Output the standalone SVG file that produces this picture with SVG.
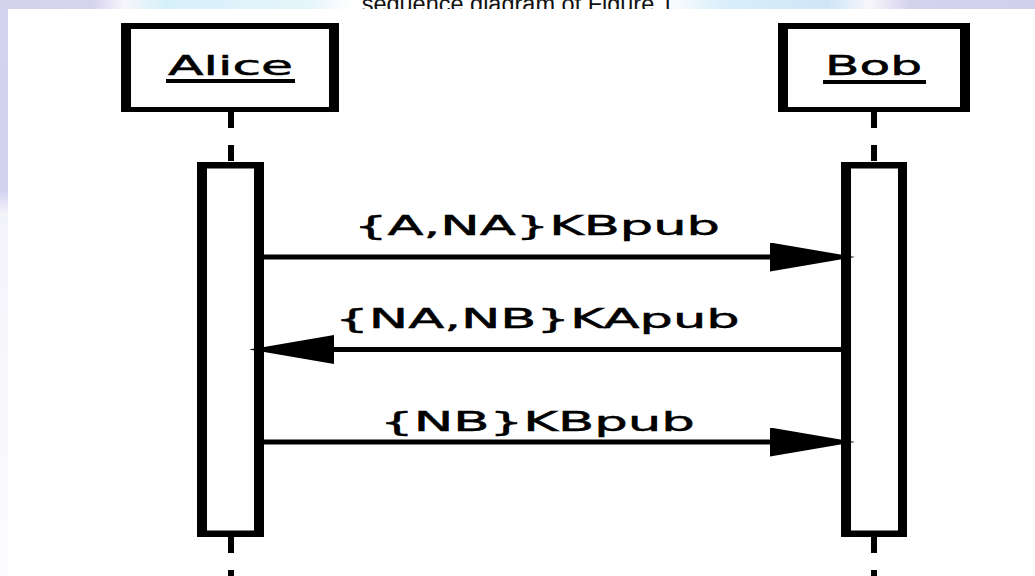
<svg xmlns="http://www.w3.org/2000/svg" width="1035" height="576" viewBox="0 0 1035 576">
  <defs>
    <linearGradient id="topband" x1="0" y1="0" x2="1035" y2="0" gradientUnits="userSpaceOnUse">
      <stop offset="0" stop-color="#d5d2ee"/>
      <stop offset="0.09" stop-color="#d7d4ef"/>
      <stop offset="0.12" stop-color="#f6f6fb"/>
      <stop offset="0.16" stop-color="#d6f0fa"/>
      <stop offset="0.3" stop-color="#e6f5fb"/>
      <stop offset="0.34" stop-color="#ffffff"/>
      <stop offset="0.64" stop-color="#ffffff"/>
      <stop offset="0.7" stop-color="#d9eefa"/>
      <stop offset="0.8" stop-color="#cfe6f7"/>
      <stop offset="0.84" stop-color="#f7f7fb"/>
      <stop offset="0.88" stop-color="#d5d2ee"/>
      <stop offset="1" stop-color="#d2cfed"/>
    </linearGradient>
    <linearGradient id="leftband" x1="0" y1="0" x2="0" y2="576" gradientUnits="userSpaceOnUse">
      <stop offset="0" stop-color="#d5d2ee"/>
      <stop offset="0.33" stop-color="#d3d0ef"/>
      <stop offset="0.37" stop-color="#f3f3fa"/>
      <stop offset="1" stop-color="#fcfcfe"/>
    </linearGradient>
    <marker id="head" markerUnits="userSpaceOnUse" markerWidth="86" markerHeight="30" refX="0" refY="14.5" orient="auto">
      <path d="M0,0 L85,14.5 L0,29 Z" fill="#000"/>
    </marker>
  </defs>
  <style>
    .box { fill: #000; }
    .inner { fill: #fefefe; }
    .name { font-family: "DejaVu Sans", sans-serif; font-size: 26px; fill: #000; stroke: #000; stroke-width: 0.5; text-anchor: middle; }
    .msg { font-family: "DejaVu Sans", sans-serif; font-size: 27px; fill: #000; stroke: #000; stroke-width: 0.5; text-anchor: middle; }
    .life { stroke: #000; stroke-width: 6; stroke-dasharray: 16 17; fill: none; }
    .arrow { stroke: #000; stroke-width: 5; fill: none; marker-end: url(#head); }
    .caption { font-family: "Liberation Sans", Arial, sans-serif; font-size: 23.5px; fill: #111; text-anchor: middle; }
  </style>

  <!-- page background / watermark -->
  <rect x="0" y="0" width="1035" height="576" fill="#ffffff"/>
  <rect x="0" y="0" width="1035" height="10" fill="url(#topband)"/>
  <rect x="0" y="0" width="8" height="576" fill="url(#leftband)"/>
  <text class="caption" x="521" y="12">sequence diagram of Figure 1.</text>
  <rect x="8" y="9" width="1027" height="567" fill="#ffffff"/>

  <!-- lifelines -->
  <g id="lifelines">
    <line class="life" x1="231" y1="112" x2="231" y2="162"/>
    <line class="life" x1="231" y1="537" x2="231" y2="586"/>
    <line class="life" x1="874" y1="112" x2="874" y2="162"/>
    <line class="life" x1="874" y1="537" x2="874" y2="586"/>
  </g>

  <g id="alice">
    <rect class="box" x="121" y="23" width="218" height="89"/>
    <rect class="inner" x="131" y="29" width="198" height="78"/>
    <text class="name" transform="translate(230.5,75) scale(2,1)">Alice</text>
    <rect x="166" y="79" width="129" height="4" fill="#000"/>
  </g>

  <g id="bob">
    <rect class="box" x="778" y="23" width="192" height="89"/>
    <rect class="inner" x="788" y="29" width="172" height="78"/>
    <text class="name" transform="translate(873.5,75) scale(1.93,1)">Bob</text>
    <rect x="823" y="80" width="103" height="4" fill="#000"/>
  </g>

  <g id="alice-activation">
    <rect class="box" x="197" y="162" width="67" height="375"/>
    <rect class="inner" x="207" y="168.5" width="47" height="362"/>
  </g>

  <g id="bob-activation">
    <rect class="box" x="841" y="162" width="66" height="375"/>
    <rect class="inner" x="851" y="168.5" width="47" height="362"/>
  </g>

  <g id="connectors">
    <line class="arrow" x1="264" y1="257" x2="770" y2="257"/>
    <text class="msg" transform="translate(537,235) scale(1.95,1)">{A,NA}KBpub</text>
    <line class="arrow" x1="841" y1="349.5" x2="334" y2="349.5"/>
    <text class="msg" transform="translate(537.5,328) scale(1.95,1)">{NA,NB}KApub</text>
    <line class="arrow" x1="264" y1="442" x2="770" y2="442"/>
    <text class="msg" transform="translate(537.5,431) scale(1.96,1)">{NB}KBpub</text>
  </g>
</svg>
